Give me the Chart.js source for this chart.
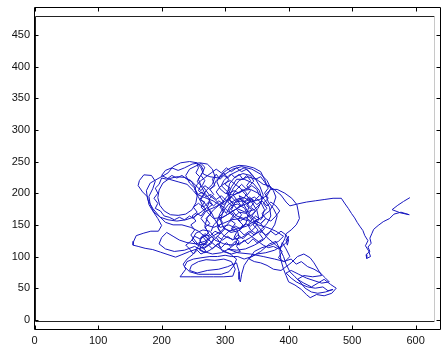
<!DOCTYPE html>
<html>
<head>
<meta charset="utf-8">
<script src="https://cdn.jsdelivr.net/npm/chart.js@4/dist/chart.umd.min.js"></script>
<style>
  html, body { margin: 0; padding: 0; background: #fff; }
</style>
</head>
<body>
<canvas id="c" width="441" height="352"></canvas>
<script>
// tracked path, image coordinates (pixels)
const trackX = [
  591,581,572,563,576,590,577,566,559,549,541,534,531,528,530,525,528,522,523,529,
  526,521,525,520,517,512,508,504,499,494,489,483,470,456,442,428,414,402,396,388,
  377,366,362,356,345,333,322,311,302,293,287,292,300,312,325,336,345,340,328,316,
  307,304,308,318,332,346,356,360,355,348,336,322,313,306,299,292,287,290,299,312,
  326,338,348,353,350,342,330,317,305,296,293,298,309,322,332,336,331,320,308,302,
  293,281,268,256,252,246,236,224,212,202,196,194,197,204,214,226,238,248,254,256,
  252,244,238,244,256,262,268,264,258,262,268,276,272,262,250,238,224,210,198,188,
  182,180,186,190,184,172,165,163,170,178,180,186,194,200,195,183,172,160,156,155,
  163,174,186,198,210,222,232,244,256,268,278,283,276,265,254,248,256,268,273,268,
  262,258,250,240,234,238,232,229,246,264,282,298,312,316,310,298,284,270,258,247,
  244,256,272,290,304,318,322,322,324,326,330,338,350,364,378,388,394,396,404,412,
  417,415,413,405,394,382,372,364,368,376,382,378,370,360,346,332,318,304,320,340,
  360,378,394,402,396,390,386,388,392,396,400,410,420,428,434,444,456,468,475,466,
  456,446,436,424,414,424,438,452,446,440,434,424,414,404,396,388,376,366,356,346,
  338,346,358,372,384,392,380,366,352,338,324,310,296,282,270,262,270,284,298,312,
  326,340,352,362,370,372,366,354,340,326,312,298,284,274,268,272,282,294,304,310,
  318,330,344,354,358,352,342,330,318,310,316,328,338,334,322,308,294,280,268,254,
  240,228,218,208,200,196,206,220,236,252,266,280,294,306,316,322,318,306,292,284,
  278,270,262,270,280,284,280,272,260,248,236,226,216,206,200,212,226,240,250,258,
  264,272,282,296,310,322,334,346,356,362,358,346,334,320,306,296,290,296,310,324,
  324,318,322,314,318,310,316,308,314,306,312,304,310,302,308,300,306,298,292,286,
  280,284,276,282,274,280,272,278,270,276,268,274,266,272,264,270,262,256,250,244,
  238,246,252,260,268,276,284,292,300,308,316,324,332,340,348,356,364,372,380,386,
  380,372,366,358,350,342,334,326,318,310,302,294,286,278,270,264,258,252,256,262,
  270,278,286,294,302,310,318,326,334,342,348,356,362,368,362,368,360,366,358,364,
  356,362,354,360,350,344,336,330,322,316,308,302,294,288,280,274,266,258,252,246,
  252,246,254,248,256,250,258,266,274,282,290,298,306,314,322,330,338,346,354,350,
  342,334,326,318,312,318,324,318,326,320,328,322,330,338,346,352,344,350,342,348,
  340,346,338,330,324,316,308,300,292,286,292,298,292,298,290,296,288,294,286,292,
  284,276,268,260,262,270,276,272,264,260,264,272,280,288,296,304,312,320,328,336,
  344,352,360,368,376,384,392,398,400,396,398,400,396,388,380,372,364,356,348,340,
  336,342,336,342,334,340,334,340,334,340,334,328,322,316,310,304,298,292,286,282,
  276,268,262,254,248,240,232,224,216,208,200,196,190,194,188,194,190,198,204,212,
  220,228,236,244,250,256,262,268,262,268,260,266,258,262,256,260,254,258,256,262,
  266,262,268,264,270,276,284,292,300,308,316,324,332,340,348,356,362,370,376,380,
  376,370,360,352,344,338,330,322,314,306,298,294,300,306,314,322,328,334,330,322,
  336,350,366,380,390,384,392,404,412,420,430,440,450,458,464,452,440,428,416,404,
  396,404,412,420,430,442,454,462,470,458,446,436,426,418,410,402,396,392,386,380,
  370,356,342,330,320,310,300,288,276,262,250,240,236,244,258,276,294,306,314,318,
  308,296,284,270,258,246,232,218,206,196,186,178,176,182,196,210,218,230,244,256,
  262,266,276,290,300,312,326,342,356,366,372,366,354,340,326,312,300,290,282,278
];
const trackY = [
  193,187,181,174,169,166,170,167,160,155,149,143,136,129,121,115,108,103,97,100,
  109,117,125,133,141,148,154,161,168,176,183,192,192,190,188,186,183,180,186,197,
  206,212,222,234,240,243,244,241,236,229,218,207,200,197,202,209,219,228,231,226,
  215,202,188,176,170,174,184,197,210,222,226,220,208,194,180,168,155,142,132,127,
  130,137,147,160,173,186,193,190,182,170,156,145,138,141,150,163,176,183,180,168,
  180,188,193,198,210,220,225,226,223,216,205,193,181,172,166,165,167,174,185,196,
  208,216,228,238,244,247,241,232,222,212,200,190,178,170,162,158,156,158,162,170,
  182,195,207,219,228,229,220,212,202,194,182,172,160,149,140,140,137,133,124,118,
  116,113,111,107,103,99,103,108,112,115,120,131,140,142,137,126,118,120,128,133,
  128,116,104,96,88,80,72,68,68,68,68,68,69,80,92,96,94,95,92,86,
  78,74,78,80,84,90,76,64,60,72,86,98,104,106,110,116,128,136,142,150,
  160,172,182,192,200,206,206,198,186,176,164,150,138,126,118,112,110,112,106,104,
  100,96,92,100,112,122,108,94,80,70,60,55,48,40,35,40,38,42,50,56,
  64,58,52,58,64,70,68,70,80,90,98,104,100,90,84,78,80,86,90,92,
  96,108,114,118,124,132,140,146,150,156,160,158,152,146,150,160,172,178,186,196,
  204,206,200,190,178,164,152,140,130,122,118,120,126,136,148,162,174,184,196,210,
  222,222,216,204,190,176,166,160,164,174,186,188,180,168,170,156,140,132,124,120,
  122,126,132,138,130,120,112,108,110,116,108,104,106,112,120,132,144,150,146,158,
  170,182,190,204,214,226,238,246,248,246,240,236,240,236,228,222,218,214,204,194,
  182,170,160,162,170,178,188,194,186,174,162,156,148,144,140,130,118,108,104,108,
  108,116,124,130,138,144,152,158,166,172,180,186,194,200,208,214,222,228,222,230,
  222,212,206,198,190,182,176,168,160,152,146,138,130,122,116,108,104,110,104,112,
  118,124,132,128,136,132,140,136,144,140,148,144,152,148,156,152,160,156,164,172,
  180,186,180,188,182,190,184,192,186,194,188,196,190,198,194,202,198,206,214,220,
  226,232,238,232,240,234,240,234,238,230,222,226,218,208,200,192,184,176,168,160,
  152,144,136,128,122,128,120,126,118,124,116,122,114,120,112,118,112,118,126,134,
  142,150,156,164,170,178,184,178,186,180,188,182,190,184,192,186,194,188,196,206,
  212,206,214,206,198,190,182,174,166,158,150,142,134,140,134,142,150,158,164,172,
  178,186,192,200,208,214,220,216,210,202,194,186,178,170,162,154,146,138,130,122,
  116,110,106,110,118,122,128,134,132,126,120,118,124,132,126,132,126,134,128,136,
  130,124,118,114,116,112,118,124,132,126,118,126,134,140,134,140,134,140,136,142,
  150,158,166,174,180,188,196,204,212,220,228,222,230,224,230,224,232,226,220,212,
  206,212,204,212,218,222,228,224,228,222,224,214,208,200,192,184,176,172,164,162,
  158,162,158,164,160,168,164,172,178,186,190,198,204,212,218,226,232,240,246,244,
  236,228,220,212,204,196,190,182,176,168,162,156,162,156,164,158,166,172,182,194,
  204,212,214,220,226,234,240,236,232,228,220,212,206,200,204,200,206,200,192,196,
  170,150,130,118,108,98,92,96,88,92,84,80,74,66,60,58,62,66,72,78,
  74,66,60,56,52,50,52,46,48,44,42,44,50,60,68,76,88,100,112,124,
  120,108,100,96,100,100,102,100,100,98,96,92,84,76,72,72,72,76,86,96,
  104,110,118,130,140,146,150,150,154,164,176,190,204,216,224,232,242,248,250,248,
  240,230,226,224,230,238,242,238,230,220,208,196,190,186,180,172,164,158,150,140
];

const xTicks = [0, 100, 200, 300, 400, 500, 600];
const yTicks = [0, 50, 100, 150, 200, 250, 300, 350, 400, 450];

// border of the image area inside the axes
const frameX = [1, 629];
const frameY = [-1, 480];

const points = trackX.map((x, i) => ({ x: x, y: trackY[i] }));

// matlab-style box: outer axes box, inner image frame, ticks pointing inward
const boxPlugin = {
  id: 'box',
  afterDraw(chart) {
    const ctx = chart.ctx;
    const sx = chart.scales.x, sy = chart.scales.y;
    ctx.save();
    ctx.lineWidth = 1;

    // inner frame
    const fl = Math.round(sx.getPixelForValue(frameX[0])) + 0.5;
    const fr = Math.round(sx.getPixelForValue(frameX[1])) + 0.5;
    const ft = Math.round(sy.getPixelForValue(frameY[1])) + 0.5;
    const fb = Math.round(sy.getPixelForValue(frameY[0])) + 0.5;
    ctx.strokeStyle = '#222';
    ctx.beginPath();
    ctx.moveTo(fr, ft); ctx.lineTo(fl, ft); ctx.lineTo(fl, fb); ctx.lineTo(fr, fb);
    ctx.stroke();
    ctx.strokeStyle = '#c8c8c8';
    ctx.beginPath();
    ctx.moveTo(fr, ft); ctx.lineTo(fr, fb);
    ctx.stroke();

    // outer box, taken from the scale limits
    const l = Math.round(sx.getPixelForValue(sx.min)) + 0.5;
    const r = Math.round(sx.getPixelForValue(sx.max)) - 0.5;
    const t = Math.round(sy.getPixelForValue(sy.max)) + 0.5;
    const b = Math.round(sy.getPixelForValue(sy.min)) - 0.5;
    ctx.strokeStyle = '#000';
    ctx.beginPath();
    ctx.moveTo(l, t); ctx.lineTo(r, t);
    ctx.moveTo(l, b); ctx.lineTo(r, b);
    ctx.moveTo(l, t); ctx.lineTo(l, b);
    ctx.moveTo(r, t); ctx.lineTo(r, b);
    ctx.stroke();

    // inward ticks
    const len = 4;
    ctx.beginPath();
    xTicks.forEach(v => {
      const px = Math.round(sx.getPixelForValue(v)) + 0.5;
      ctx.moveTo(px, b); ctx.lineTo(px, b - len);
      ctx.moveTo(px, t); ctx.lineTo(px, t + len);
    });
    yTicks.forEach(v => {
      const py = Math.round(sy.getPixelForValue(v)) + 0.5;
      ctx.moveTo(l, py); ctx.lineTo(l + len, py);
      ctx.moveTo(r, py); ctx.lineTo(r - len, py);
    });
    ctx.stroke();
    ctx.restore();
  }
};

new Chart(document.getElementById('c'), {
  type: 'scatter',
  data: {
    datasets: [{
      data: points,
      showLine: true,
      borderColor: '#1818c0',
      borderWidth: 1,
      pointRadius: 0,
      tension: 0
    }]
  },
  options: {
    responsive: false,
    animation: false,
    events: [],
    layout: { padding: { top: 7, right: -1, left: 0, bottom: 0 } },
    plugins: { legend: { display: false }, tooltip: { enabled: false } },
    scales: {
      x: {
        type: 'linear',
        min: -1,
        max: 640,
        afterBuildTicks: axis => { axis.ticks = xTicks.map(v => ({ value: v })); },
        afterFit: axis => {
          axis.height = 22;
          axis.paddingLeft = 0;
          axis.paddingRight = 0;
        },
        grid: { display: false, drawTicks: false },
        border: { display: false },
        ticks: {
          padding: 4,
          maxRotation: 0,
          autoSkip: false,
          color: '#111',
          font: { family: 'Liberation Sans', size: 11 }
        }
      },
      y: {
        type: 'linear',
        min: -16,
        max: 494,
        afterBuildTicks: axis => { axis.ticks = yTicks.map(v => ({ value: v })); },
        afterFit: axis => {
          axis.width = 34;
          axis.paddingTop = 0;
          axis.paddingBottom = 0;
        },
        grid: { display: false, drawTicks: false },
        border: { display: false },
        ticks: {
          padding: 4,
          autoSkip: false,
          color: '#111',
          font: { family: 'Liberation Sans', size: 11 }
        }
      }
    }
  },
  plugins: [boxPlugin]
});
</script>
</body>
</html>
